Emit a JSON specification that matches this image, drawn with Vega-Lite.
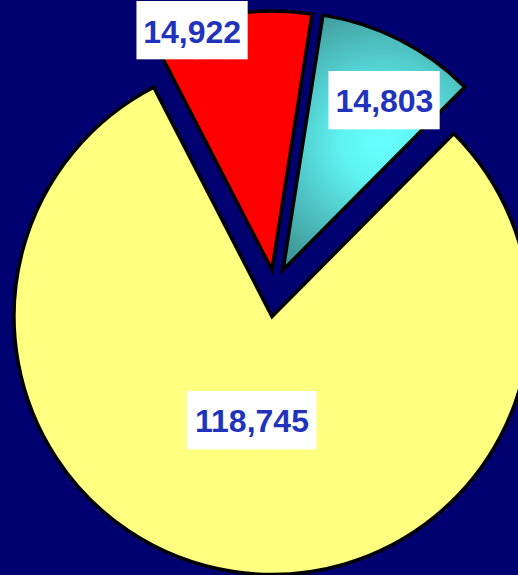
{
  "$schema": "https://vega.github.io/schema/vega-lite/v6.json",
  "width": 518,
  "height": 575,
  "padding": 0,
  "autosize": {"type": "none"},
  "background": "#000070",
  "config": {
    "view": {
      "stroke": null,
      "fill": {"gradient": "linear", "x1": 0, "y1": 0, "x2": 0, "y2": 1, "stops": [{"offset": 0, "color": "#00005E"}, {"offset": 1, "color": "#000084"}]}
    }
  },
  "data": {
    "values": [
      {"slice": "cyan", "value": 14803, "order": 1},
      {"slice": "yellow", "value": 118745, "order": 2},
      {"slice": "red", "value": 14922, "order": 3}
    ]
  },
  "transform": [
    {"stack": "value", "groupby": [], "sort": [{"field": "order", "order": "ascending"}], "as": ["start", "end"]},
    {"calculate": "(datum.start + datum.end) / 2", "as": "mid"}
  ],
  "layer": [
    {
      "transform": [{"filter": "datum.slice === 'cyan'"}],
      "mark": {"type": "arc", "radius": 258, "stroke": "black", "strokeWidth": 3.5, "xOffset": 24, "yOffset": -17.5,
        "fill": {"gradient": "radial", "x1": 0.53, "y1": 0.5, "r1": 0, "x2": 0.53, "y2": 0.5, "r2": 0.6, "stops": [{"offset": 0, "color": "#66FFFF"}, {"offset": 0.25, "color": "#60F4F4"}, {"offset": 1, "color": "#3C9090"}]}},
      "encoding": {
        "theta": {"field": "end", "type": "quantitative", "stack": null, "scale": {"range": [0.1553, 6.4385], "zero": true, "nice": false}},
        "theta2": {"field": "start"}
      }
    },
    {
      "transform": [{"filter": "datum.slice === 'yellow'"}],
      "mark": {"type": "arc", "radius": 258, "stroke": "black", "strokeWidth": 3.5, "xOffset": 13, "yOffset": 29, "fill": "#FFFF80"},
      "encoding": {
        "theta": {"field": "end", "type": "quantitative", "stack": null},
        "theta2": {"field": "start"}
      }
    },
    {
      "transform": [{"filter": "datum.slice === 'red'"}],
      "mark": {"type": "arc", "radius": 259, "stroke": "black", "strokeWidth": 3.5, "xOffset": 13, "yOffset": -17.5, "fill": "#FF0000"},
      "encoding": {
        "theta": {"field": "end", "type": "quantitative", "stack": null},
        "theta2": {"field": "start"}
      }
    },
    {
      "transform": [{"filter": "datum.slice === 'red'"}],
      "mark": {"type": "text", "text": "███▊", "font": "DejaVu Sans Mono", "fontSize": 49, "fill": "white", "align": "center", "baseline": "middle", "dx": -22, "dy": -1},
      "encoding": {
        "theta": {"field": "mid", "type": "quantitative", "stack": null},
        "radius": {"value": 257.4}
      }
    },
    {
      "transform": [{"filter": "datum.slice === 'cyan'"}],
      "mark": {"type": "text", "text": "███▊", "font": "DejaVu Sans Mono", "fontSize": 49, "fill": "white", "align": "center", "baseline": "middle", "dx": 35, "dy": 0},
      "encoding": {
        "theta": {"field": "mid", "type": "quantitative", "stack": null},
        "radius": {"value": 207.9}
      }
    },
    {
      "transform": [{"filter": "datum.slice === 'yellow'"}],
      "mark": {"type": "text", "text": "████▍", "font": "DejaVu Sans Mono", "fontSize": 49, "fill": "white", "align": "center", "baseline": "middle", "dx": 23, "dy": 0},
      "encoding": {
        "theta": {"field": "mid", "type": "quantitative", "stack": null},
        "radius": {"value": 136.1}
      }
    },
    {
      "transform": [{"filter": "datum.slice === 'red'"}],
      "mark": {"type": "text", "font": "Liberation Sans", "fontWeight": "bold", "fontSize": 32, "fill": "#2233BB", "align": "center", "baseline": "middle", "dx": -25.8},
      "encoding": {
        "theta": {"field": "mid", "type": "quantitative", "stack": null},
        "radius": {"value": 257.4},
        "text": {"field": "value", "type": "quantitative", "format": ","}
      }
    },
    {
      "transform": [{"filter": "datum.slice === 'cyan'"}],
      "mark": {"type": "text", "font": "Liberation Sans", "fontWeight": "bold", "fontSize": 32, "fill": "#2233BB", "align": "center", "baseline": "middle", "dx": 31.6},
      "encoding": {
        "theta": {"field": "mid", "type": "quantitative", "stack": null},
        "radius": {"value": 207.9},
        "text": {"field": "value", "type": "quantitative", "format": ","}
      }
    },
    {
      "transform": [{"filter": "datum.slice === 'yellow'"}],
      "mark": {"type": "text", "font": "Liberation Sans", "fontWeight": "bold", "fontSize": 32, "fill": "#2233BB", "align": "center", "baseline": "middle", "dx": 13.7},
      "encoding": {
        "theta": {"field": "mid", "type": "quantitative", "stack": null},
        "radius": {"value": 136.1},
        "text": {"field": "value", "type": "quantitative", "format": ","}
      }
    }
  ]
}
